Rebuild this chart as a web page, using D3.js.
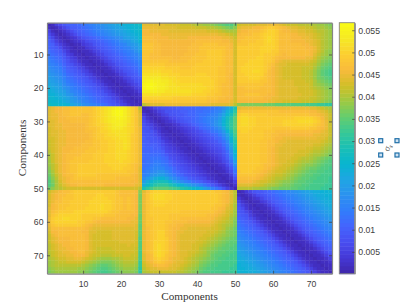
<!DOCTYPE html>
<html><head><meta charset="utf-8">
<script src="https://cdn.jsdelivr.net/npm/d3@7"></script>
<style>html,body{margin:0;padding:0;background:#fff}svg{display:block}</style>
</head><body><svg id="c" width="410" height="307"></svg>
<script>
// Matrix values in thousandths; symmetric, so only the lower triangle is listed.
const block11 = [
[1],
[2,1],
[5,2,1],
[7,4,2,1],
[9,6,3,2,1],
[10,8,5,3,2,1],
[11,10,7,5,3,2,1],
[11,10,9,7,4,3,2,1],
[12,11,10,9,6,4,2,2,1],
[13,12,11,10,8,5,4,2,2,1],
[14,13,12,11,9,7,5,4,2,2,1],
[15,14,13,12,10,8,6,5,3,2,2,1],
[16,15,14,13,11,9,8,6,5,3,2,2,1],
[17,16,15,14,12,10,9,8,6,5,3,2,2,1],
[18,17,16,15,13,11,10,9,8,6,5,3,2,2,1],
[19,18,17,16,14,12,11,10,9,8,6,5,3,2,2,1],
[20,19,18,17,15,13,12,11,10,9,8,6,5,3,2,2,1],
[21,20,19,18,16,14,13,12,11,10,9,8,6,5,3,2,2,1],
[22,21,20,19,17,15,14,13,12,11,10,9,8,6,5,3,2,2,1],
[23,22,21,20,18,17,15,14,13,12,11,10,9,8,6,5,3,2,2,1],
[24,23,22,21,20,18,16,15,14,13,12,11,10,9,8,6,5,3,2,2,1],
[24,24,23,22,21,19,18,16,15,14,13,12,11,10,9,8,6,5,3,2,2,1],
[25,25,24,23,22,21,19,18,16,15,14,13,12,11,10,9,8,6,5,3,2,2,1],
[26,25,25,24,23,22,20,19,18,16,15,14,13,12,11,10,9,8,6,5,3,2,2,1],
[27,26,26,25,25,24,22,21,20,18,17,16,15,14,13,12,10,9,8,6,5,3,2,2,1]
];
const block21 = [
[44,45,46,46,47,47,48,48,48,48,48,48,49,50,51,52,53,54,55,55,54,52,50,48,41],
[44,45,46,46,47,47,48,48,48,48,48,48,49,50,51,52,53,55,56,56,54,52,50,48,43],
[44,45,45,46,47,47,48,48,48,47,47,48,49,50,51,52,53,55,56,56,54,52,50,48,44],
[44,45,45,46,46,47,47,47,47,47,47,48,49,50,51,52,53,54,55,55,54,52,50,48,44],
[44,44,45,46,46,46,47,47,47,47,47,48,49,50,51,52,53,54,54,54,53,52,50,48,44],
[44,44,45,45,46,46,46,46,46,46,47,48,49,50,50,51,52,53,54,54,53,51,50,48,44],
[43,44,45,45,46,46,46,46,46,46,47,48,48,49,50,51,52,53,53,53,52,51,50,48,45],
[43,44,44,45,45,46,46,46,46,46,47,47,48,49,50,50,51,52,52,52,52,51,50,48,45],
[43,44,44,45,45,46,46,46,46,46,46,47,48,49,49,50,51,51,52,52,52,51,49,48,45],
[43,43,44,45,45,46,46,46,46,46,46,47,48,49,49,50,50,51,51,52,52,51,49,48,45],
[42,43,44,45,45,46,46,46,46,46,47,47,48,48,49,49,50,50,51,51,52,51,49,48,45],
[42,43,44,45,45,46,46,46,46,47,47,47,48,48,49,49,50,50,51,51,52,51,49,48,45],
[42,43,44,45,46,46,46,47,47,47,47,48,48,48,49,49,50,50,51,51,52,51,49,48,45],
[41,43,44,45,46,46,47,47,47,47,48,48,48,49,49,49,50,50,51,51,51,50,49,48,45],
[40,42,44,45,46,47,47,47,47,48,48,48,49,49,49,50,50,50,51,51,51,50,49,48,45],
[40,42,44,45,46,47,47,48,48,48,48,48,49,49,49,50,50,50,51,51,51,50,49,48,45],
[39,42,44,45,46,47,48,48,48,48,48,49,49,49,49,50,50,50,50,51,50,50,49,48,45],
[39,41,43,45,46,47,48,48,49,49,49,49,49,49,49,49,50,50,50,50,50,49,48,47,45],
[38,41,43,45,46,47,48,48,49,49,49,49,49,49,49,49,49,50,50,50,49,49,48,47,44],
[37,40,43,45,46,47,48,48,49,49,49,49,49,49,49,49,49,49,49,49,49,48,48,47,44],
[36,39,42,44,46,47,47,48,49,49,49,49,49,48,48,48,48,48,48,48,48,48,47,46,44],
[35,38,41,44,45,46,47,48,48,48,48,48,48,48,48,48,48,48,47,47,47,47,47,46,44],
[34,37,40,43,45,46,47,47,47,47,47,47,47,47,47,47,47,47,47,47,47,47,46,46,44],
[34,36,40,42,44,45,46,46,47,47,47,47,47,47,47,46,46,46,46,46,46,46,46,45,44],
[36,38,40,41,42,43,43,43,43,43,43,43,43,43,43,43,43,43,43,43,43,43,43,43,41]
];
const block22 = [
[1],
[2,1],
[4,2,1],
[6,3,2,1],
[7,5,3,2,1],
[8,6,5,3,2,1],
[8,8,6,4,3,2,1],
[9,8,8,6,4,2,2,1],
[9,9,8,7,5,3,2,2,1],
[10,9,9,8,7,4,3,2,2,1],
[10,10,9,9,8,6,4,3,2,2,1],
[11,10,10,10,9,7,5,4,3,2,2,1],
[11,11,11,10,10,8,6,5,4,3,2,2,1],
[11,11,11,11,11,10,7,6,5,4,3,2,2,1],
[12,12,12,12,12,11,9,7,6,5,4,3,2,2,1],
[12,12,13,13,13,12,11,8,7,6,5,4,3,2,2,1],
[12,13,13,14,14,13,12,10,8,7,6,5,4,3,2,2,1],
[13,13,14,15,15,14,13,11,9,8,7,6,5,4,3,2,2,1],
[13,14,15,16,16,16,14,13,11,9,8,7,6,5,4,3,2,2,1],
[14,15,16,17,18,18,16,14,12,11,9,8,7,6,5,4,3,2,2,1],
[15,16,18,19,20,20,18,16,14,12,11,9,8,7,6,5,4,3,2,2,1],
[17,19,21,23,24,24,22,19,17,15,13,12,10,9,8,7,6,4,3,2,2,1],
[20,23,25,27,28,28,27,24,21,19,17,15,14,12,11,10,8,7,5,4,2,2,1],
[23,26,28,30,31,31,31,29,27,25,24,22,20,18,17,15,13,11,9,7,5,3,2,1],
[29,31,33,35,35,35,35,34,33,32,30,29,28,26,24,23,20,18,15,13,11,8,5,3,1]
];
const block31 = [
[42,44,45,46,47,47,48,49,49,49,49,49,49,49,49,49,49,49,48,47,47,47,47,46,38],
[43,45,46,47,47,48,48,49,49,49,49,49,49,50,50,49,49,49,48,47,47,47,47,46,37],
[43,45,46,47,48,48,48,49,49,49,49,49,50,50,50,50,49,49,48,48,47,48,47,46,37],
[43,45,47,47,48,48,49,49,49,49,49,50,50,50,50,50,50,49,48,48,47,48,47,46,37],
[43,46,47,48,48,48,49,49,49,49,49,50,50,50,51,50,50,49,48,48,47,48,47,46,37],
[44,46,47,48,48,49,49,49,49,49,50,50,50,50,51,50,50,49,48,48,47,48,47,46,37],
[44,47,48,49,49,49,49,50,50,50,50,50,50,50,50,50,49,48,48,47,47,47,47,46,37],
[44,48,49,50,50,50,50,50,50,49,49,49,49,49,49,48,48,48,47,47,47,47,46,46,36],
[45,49,50,50,51,51,50,50,50,49,49,49,48,48,47,47,47,47,47,47,47,46,46,45,36],
[45,49,50,50,50,50,50,50,49,49,48,48,47,46,46,46,46,46,46,46,46,46,45,45,36],
[45,48,49,49,49,49,49,49,49,48,47,46,45,45,45,45,45,45,45,45,45,45,45,44,35],
[44,47,47,47,47,47,47,47,47,47,46,45,44,44,44,44,44,44,44,44,44,44,44,44,35],
[43,46,46,47,47,47,47,47,47,46,46,44,44,43,43,43,43,44,44,44,44,44,44,43,35],
[42,45,46,47,47,47,47,47,47,47,46,44,43,43,43,43,43,44,44,44,44,44,44,43,35],
[42,44,45,46,46,46,47,47,47,47,46,44,43,43,43,43,43,44,44,44,44,44,44,43,34],
[42,44,45,46,46,46,47,47,47,47,46,44,43,43,43,43,43,43,43,44,44,44,44,43,34],
[41,43,44,45,46,46,47,47,47,47,46,44,43,43,43,43,43,43,43,43,43,44,43,43,34],
[41,43,44,45,45,46,46,47,47,47,46,44,43,42,42,42,42,43,43,43,43,43,43,42,34],
[41,42,43,44,45,45,46,46,47,47,45,44,43,42,42,42,42,42,43,43,43,43,43,42,33],
[40,42,43,44,44,45,45,46,46,46,45,43,42,42,41,41,41,42,42,42,43,43,42,42,33],
[40,41,42,43,43,44,44,45,45,44,43,42,41,40,39,39,39,40,40,41,42,42,42,41,33],
[39,40,41,42,42,43,43,43,43,42,41,40,39,38,37,37,37,38,39,40,41,41,41,40,32],
[39,40,41,41,41,41,41,41,41,40,39,38,37,36,35,35,36,37,38,39,40,40,40,39,32],
[38,39,40,40,40,40,40,40,39,39,38,37,36,35,34,34,35,36,37,38,39,39,39,38,31],
[37,38,39,39,39,39,39,39,38,38,37,36,35,34,33,33,34,35,36,37,38,38,38,37,31]
];
const block32 = [
[44,47,49,50,50,50,50,49,49,49,49,49,49,49,49,49,49,49,49,48,48,47,46,44,41],
[45,48,50,51,51,51,50,50,49,49,49,49,49,49,49,49,49,49,49,49,48,47,46,44,41],
[45,48,50,51,51,51,50,50,49,49,49,49,49,49,49,49,49,49,49,49,48,47,46,44,41],
[45,48,49,50,50,50,50,49,49,49,49,49,49,49,49,49,49,49,49,49,48,47,46,44,41],
[45,48,49,50,50,50,49,49,49,49,49,49,49,49,49,49,49,49,49,48,48,47,45,43,40],
[45,48,49,49,49,49,49,49,49,49,49,49,49,49,49,49,49,49,48,48,47,46,44,43,40],
[45,48,49,49,49,49,49,49,49,49,48,48,48,48,48,48,48,48,48,47,46,45,43,42,39],
[45,48,49,49,49,49,49,48,48,48,48,48,48,48,48,48,48,47,47,46,45,44,43,41,39],
[45,48,48,49,49,49,49,48,48,48,47,47,47,47,47,47,47,47,46,45,44,43,42,40,38],
[45,48,48,49,49,49,48,48,47,47,47,47,46,46,46,46,46,46,45,44,43,42,41,40,37],
[45,48,48,49,49,49,48,47,47,46,46,45,45,45,45,45,45,45,44,43,42,41,40,39,37],
[45,47,48,49,49,49,48,47,46,46,45,45,44,44,44,44,44,44,43,43,42,41,39,38,36],
[45,47,48,49,50,50,48,47,46,45,45,44,44,44,44,44,44,43,43,42,41,40,38,37,36],
[45,47,48,49,50,50,48,47,46,45,44,44,44,44,44,44,43,43,42,41,40,39,38,37,36],
[45,47,48,49,50,50,49,47,46,45,44,44,44,44,44,43,43,42,41,40,39,38,37,36,35],
[45,47,48,50,50,50,49,47,46,45,44,44,44,44,43,43,42,41,40,39,38,37,36,35,35],
[45,47,48,50,51,50,49,47,46,45,44,44,44,43,43,42,41,40,39,38,37,36,35,35,34],
[45,47,48,50,51,50,49,47,46,45,44,44,44,43,43,41,40,39,38,37,36,35,35,34,34],
[45,47,48,50,51,50,49,47,46,45,44,44,43,43,42,41,40,38,37,36,35,35,34,34,33],
[44,46,47,50,51,50,48,47,46,45,44,44,43,42,41,40,39,38,36,35,35,34,34,33,33],
[44,46,47,49,50,49,48,46,45,45,44,43,42,41,40,39,38,37,36,35,34,34,33,33,33],
[43,45,46,48,49,48,47,46,45,44,44,43,42,41,40,38,37,36,35,34,34,33,33,33,33],
[42,44,45,46,47,47,46,45,44,44,43,42,41,40,39,37,36,35,34,34,33,33,33,33,32],
[41,43,44,44,45,45,45,44,44,43,42,41,40,39,38,36,35,34,34,33,33,33,33,32,32],
[40,41,42,42,42,42,42,42,42,41,41,40,39,38,37,35,34,34,33,33,33,32,32,32,32]
];
const block33 = [
[1],
[2,1],
[4,2,1],
[6,3,2,1],
[8,5,3,2,1],
[9,7,4,2,2,1],
[9,8,6,4,2,2,1],
[10,9,8,5,3,2,2,1],
[11,10,9,7,5,3,2,2,1],
[12,11,10,9,7,5,3,2,2,1],
[13,12,11,10,9,7,5,3,2,2,1],
[14,13,12,11,10,9,7,5,3,2,2,1],
[15,14,13,12,11,10,9,7,5,3,2,2,1],
[16,15,14,13,12,11,10,9,7,5,3,2,2,1],
[17,16,15,14,13,12,11,10,9,7,5,3,2,2,1],
[18,17,16,15,14,13,12,11,10,9,7,5,3,2,2,1],
[19,18,17,16,15,14,13,12,11,10,9,7,5,3,2,2,1],
[20,19,18,17,16,15,14,13,12,11,10,9,7,5,3,2,2,1],
[21,20,19,18,17,16,15,14,13,12,11,10,9,7,5,3,2,2,1],
[22,21,20,19,18,17,16,15,14,13,12,11,10,9,7,5,3,2,2,1],
[23,22,21,20,19,18,17,16,15,14,13,12,11,10,9,7,5,3,2,2,1],
[23,23,22,21,20,19,18,17,16,15,14,13,12,11,10,9,7,5,3,2,2,1],
[24,23,23,22,21,20,19,18,17,16,15,14,13,12,11,10,9,7,5,3,2,2,1],
[24,24,23,23,22,21,20,19,18,17,16,15,14,13,12,11,10,9,7,5,3,2,2,1],
[25,24,24,23,23,22,21,20,19,18,17,16,15,14,13,12,11,10,9,7,5,3,2,2,1]
];
const axisTicks = [10,20,30,40,50,60,70];
const barTicks = [0.005,0.01,0.015,0.02,0.025,0.03,0.035,0.04,0.045,0.05,0.055];
const barDomain = [0.00008,0.0567];
const axisLabel = "Components";
const parula = [[.2422,.1504,.6603],[.2706,.2147,.8364],[.2813,.3006,.9414],[.2699,.3892,.9906],
[.1963,.4847,.9892],[.1687,.5703,.9359],[.1248,.6459,.8883],[.0297,.7082,.8163],[.0964,.75,.712],
[.2161,.7843,.5923],[.3909,.8029,.4354],[.6174,.7876,.2612],[.8203,.7498,.1535],[.9728,.7298,.2394],
[.9892,.8136,.1885],[.9597,.9135,.1423],[.9769,.9839,.0805]];

// Assemble the symmetric matrix from its lower-triangle blocks.
const lower = [
  ...block11,
  ...block21.map((r,i)=>r.concat(block22[i])),
  ...block31.map((r,i)=>r.concat(block32[i],block33[i]))
];
const cells = [];
lower.forEach((row,i)=>row.forEach((v,j)=>{
  cells.push({r:i+1,c:j+1,v:v/1000});
  if(i!==j) cells.push({r:j+1,c:i+1,v:v/1000});
}));

const svg = d3.select("#c");
const L=47,R=332,T=22.7,B=273.7, BL=339.3, BR=354.7;
const comps = d3.range(1,76);
const xB = d3.scaleBand().domain(comps).range([L,R]);
const yB = d3.scaleBand().domain(comps).range([T,B]);
const x = d3.scaleLinear().domain([0.5,75.5]).range([L,R]);
const y = d3.scaleLinear().domain([0.5,75.5]).range([T,B]);
const cT = d3.scaleLinear().domain(barDomain).range([B,T]);
const color = d3.scaleLinear()
  .domain(parula.map((_,i)=>barDomain[0]+(barDomain[1]-barDomain[0])*i/(parula.length-1)))
  .range(parula.map(c=>d3.rgb(c[0]*255,c[1]*255,c[2]*255).formatHex()))
  .clamp(true);

const defs = svg.append("defs");
defs.append("filter").attr("id","soft").attr("x","-2%").attr("y","-2%").attr("width","104%").attr("height","104%")
  .append("feGaussianBlur").attr("stdDeviation",0.55);
defs.append("clipPath").attr("id","plot").append("rect").attr("x",L).attr("y",T).attr("width",R-L).attr("height",B-T);

svg.append("g").attr("clip-path","url(#plot)").append("g").attr("filter","url(#soft)")
  .selectAll("rect").data(cells).join("rect")
  .attr("x",d=>xB(d.c)).attr("y",d=>yB(d.r))
  .attr("width",xB.bandwidth()+0.4).attr("height",yB.bandwidth()+0.4)
  .attr("fill",d=>color(d.v));

function style(g){
  g.select(".domain").attr("stroke","#858585").attr("stroke-width",1.2);
  g.selectAll(".tick line").attr("stroke","#404040").attr("stroke-width",.7);
  g.selectAll("text").attr("fill","#404040").attr("font-family","'Liberation Sans',Arial,sans-serif").attr("font-size",8.7);
}
const none = ()=> "";
svg.append("g").attr("transform",`translate(0,${B})`).call(d3.axisBottom(x).tickValues(axisTicks).tickSizeInner(-3).tickSizeOuter(0).tickPadding(7)).call(style);
svg.append("g").attr("transform",`translate(0,${T})`).call(d3.axisTop(x).tickValues(axisTicks).tickSizeInner(-3).tickSizeOuter(0).tickFormat(none)).call(style);
svg.append("g").attr("transform",`translate(${L},0)`).call(d3.axisLeft(y).tickValues(axisTicks).tickSizeInner(-3).tickSizeOuter(0).tickPadding(3.5)).call(style);
svg.append("g").attr("transform",`translate(${R},0)`).call(d3.axisRight(y).tickValues(axisTicks).tickSizeInner(-3).tickSizeOuter(0).tickFormat(none)).call(style);

// Colour bar
const steps = d3.range(64).map(i=>barDomain[0]+(barDomain[1]-barDomain[0])*(i+.5)/64);
const barY = d3.scaleBand().domain(d3.range(64)).range([B,T]);
svg.append("g").selectAll("rect").data(steps).join("rect")
  .attr("x",BL).attr("width",BR-BL)
  .attr("y",(d,i)=>barY(i)).attr("height",barY.bandwidth()+.5)
  .attr("fill",d=>color(d));
svg.append("rect").attr("x",BL).attr("y",T).attr("width",BR-BL).attr("height",B-T).attr("fill","none").attr("stroke","#858585").attr("stroke-width",.9);
svg.append("g").attr("transform",`translate(${BR},0)`)
  .call(d3.axisRight(cT).tickValues(barTicks).tickSizeInner(-2.5).tickSizeOuter(0).tickPadding(3.6).tickFormat(d=>String(+d.toFixed(3))))
  .call(style);

// Axis titles
const serif = "'Liberation Serif','DejaVu Serif',serif";
svg.append("text").attr("x",189.5).attr("y",300).attr("text-anchor","middle").attr("font-family",serif).attr("font-size",11.2).attr("fill","#333").text(axisLabel);
svg.append("text").attr("transform","translate(26,148) rotate(-90)").attr("text-anchor","middle").attr("font-family",serif).attr("font-size",11.2).attr("fill","#333").text(axisLabel);

// Selection handles with the small colour-bar title
const handles = [[380.7,140.7],[397,140.7],[380.7,155],[397,155]];
svg.append("g").selectAll("rect").data(handles).join("rect")
  .attr("x",d=>d[0]-2).attr("y",d=>d[1]-2).attr("width",4).attr("height",4)
  .attr("fill","#cfe3f3").attr("stroke","#1f6fa8").attr("stroke-width",1.2);
const sig = svg.append("text").attr("transform","translate(388.5,152) rotate(-65)").attr("font-family",serif).attr("font-size",9).attr("fill","#444");
sig.append("tspan").text("σ");
sig.append("tspan").attr("dy",1.5).attr("font-size",6).text("s");
</script></body></html>
